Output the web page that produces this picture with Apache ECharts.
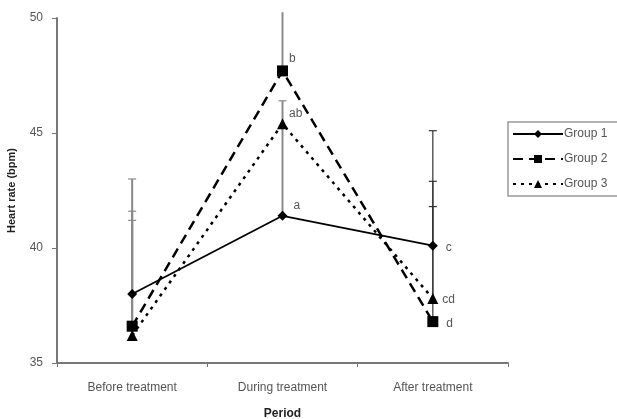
<!DOCTYPE html>
<html><head><meta charset="utf-8">
<script src="https://cdn.jsdelivr.net/npm/echarts@6/dist/echarts.min.js"></script>
<style>html,body{margin:0;padding:0;background:#fff}#c{width:617px;height:419px}</style>
</head><body><div id="c"></div>
<script>
var categories = ['Before treatment', 'During treatment', 'After treatment'];
var group1 = [38.0, 41.4, 40.1];
var group2 = [36.6, 47.7, 36.8];
var group3 = [36.2, 45.4, 37.8];
var group1Upper = [43.0, 45.3, 45.1];
var group2Upper = [41.6, 50.25, 41.8];
var group3Upper = [41.2, 46.4, 42.9];
var group1Labels = ['', 'a', 'c'];
var group2Labels = ['', 'b', 'd'];
var group3Labels = ['', 'ab', 'cd'];
var yTicks = [35, 40, 45, 50];

var chart = echarts.init(document.getElementById('c'));
var font = 'Liberation Sans, Arial, sans-serif';

function errSeries(name, means, uppers) {
  var data = means.map(function (m, i) { return [i, m, uppers[i]]; });
  return {
    type: 'custom', name: name + ' err', z: 1, silent: true,
    clip: false,
    renderItem: function (params, api) {
      var i = api.value(0);
      var top = api.value(2);
      var p0 = api.coord([i, api.value(1)]);
      var p1 = api.coord([i, top]);
      var col = i === 2 ? '#333' : '#8a8a8a';
      var w = 4;
      var children = [
        { type: 'line', shape: { x1: p0[0], y1: p0[1], x2: p1[0], y2: p1[1] }, style: { stroke: col, lineWidth: i === 2 ? 1.2 : 2 } }
      ];
      if (top <= 50) {
        children.push({ type: 'line', shape: { x1: p1[0] - w, y1: p1[1], x2: p1[0] + w, y2: p1[1] }, style: { stroke: col, lineWidth: 1.2 } });
      }
      return { type: 'group', children: children };
    },
    data: data
  };
}

function lineSeries(name, vals, labels, symbol, size, ltype, lw) {
  return {
    name: name, type: 'line', z: 3,
    data: vals.map(function (v, i) {
      return { value: v, label: { show: labels[i] !== '', formatter: labels[i] } };
    }),
    symbol: symbol, symbolSize: size,
    lineStyle: { color: '#000', width: lw, type: ltype },
    itemStyle: { color: '#000' },
    label: { position: 'right', distance: 4, color: '#555', fontSize: 12, fontFamily: font }
  };
}

var s1 = lineSeries('Group 1', group1, group1Labels, 'diamond', 10, 'solid', 1.8);
var s2 = lineSeries('Group 2', group2, group2Labels, 'rect', 11, [10, 6], 2.5);
var s3 = lineSeries('Group 3', group3, group3Labels, 'triangle', 11, [3, 5], 2.5);
s1.data[1].label.offset = [2, -10];
s2.data[1].label.offset = [-3, -12];
s3.data[1].label.offset = [-3, -10];
s1.data[2].label.offset = [4, 2];
s2.data[2].label.offset = [4, 2];
s3.data[2].label.offset = [0, 1];

chart.setOption({
  animation: false,
  backgroundColor: '#fff',
  grid: { left: 57, right: 109, top: 18, bottom: 56, containLabel: false, outerBoundsMode: 'none' },
  legend: {
    left: 508, top: 122, orient: 'vertical',
    data: ['Group 1', 'Group 2', 'Group 3'],
    itemWidth: 50, itemHeight: 10, itemGap: 13,
    borderColor: '#999', borderWidth: 1.5, padding: [6, 20, 6, 4],
    textStyle: { color: '#555', fontSize: 12, fontFamily: font, padding: [0, 0, 0, -4] }
  },
  xAxis: {
    type: 'category', data: categories, boundaryGap: true,
    name: 'Period', nameLocation: 'middle', nameGap: 45,
    nameTextStyle: { fontWeight: 'bold', fontSize: 12, color: '#222', fontFamily: font },
    axisLine: { lineStyle: { color: '#777', width: 2 } },
    axisTick: { show: true, length: 4, lineStyle: { color: '#777' } },
    axisLabel: { color: '#555', fontSize: 12, fontFamily: font, margin: 19 }
  },
  yAxis: {
    type: 'value', min: 35, max: 50, interval: 5,
    name: 'Heart rate (bpm)', nameLocation: 'middle', nameGap: 40,
    nameTextStyle: { fontWeight: 'bold', fontSize: 11, color: '#222', fontFamily: font },
    axisLine: { show: true, lineStyle: { color: '#777', width: 2 } },
    axisTick: { show: true, length: 5, lineStyle: { color: '#777' } },
    axisLabel: { color: '#555', fontSize: 12, fontFamily: font, margin: 14 },
    splitLine: { show: false }
  },
  series: [
    errSeries('Group 1', group1, group1Upper),
    errSeries('Group 2', group2, group2Upper),
    errSeries('Group 3', group3, group3Upper),
    s1, s2, s3
  ]
});
</script></body></html>
